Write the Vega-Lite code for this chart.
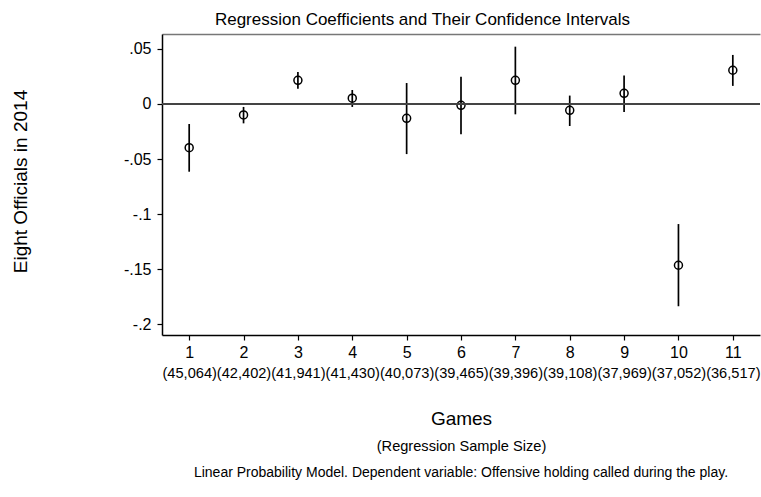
{
  "$schema": "https://vega.github.io/schema/vega-lite/v6.json",
  "width": 598,
  "height": 301,
  "autosize": {"type": "none"},
  "padding": {"left": 162, "top": 34, "right": 1, "bottom": 162},
  "background": "white",
  "config": {
    "font": "Liberation Sans",
    "view": {"stroke": null},
    "axis": {"grid": false, "labelColor": "#000", "titleColor": "#000", "titleFontWeight": "normal", "labelFlush": false, "labelOverlap": false}
  },
  "title": {
    "text": "Linear Probability Model. Dependent variable: Offensive holding called during the play.",
    "orient": "bottom",
    "anchor": "middle",
    "frame": "group",
    "fontSize": 14,
    "fontWeight": "normal",
    "color": "#000",
    "offset": 13
  },
  "data": {
    "values": [
      {"game": 1, "coef": -0.0397, "lo": -0.0615, "hi": -0.0182, "n": "(45,064)"},
      {"game": 2, "coef": -0.0100, "lo": -0.0176, "hi": -0.0027, "n": "(42,402)"},
      {"game": 3, "coef": 0.0215, "lo": 0.0139, "hi": 0.0290, "n": "(41,941)"},
      {"game": 4, "coef": 0.0052, "lo": -0.0027, "hi": 0.0127, "n": "(41,430)"},
      {"game": 5, "coef": -0.0130, "lo": -0.0455, "hi": 0.0190, "n": "(40,073)"},
      {"game": 6, "coef": -0.0012, "lo": -0.0276, "hi": 0.0248, "n": "(39,465)"},
      {"game": 7, "coef": 0.0215, "lo": -0.0094, "hi": 0.0520, "n": "(39,396)"},
      {"game": 8, "coef": -0.0058, "lo": -0.0200, "hi": 0.0076, "n": "(39,108)"},
      {"game": 9, "coef": 0.0097, "lo": -0.0073, "hi": 0.0258, "n": "(37,969)"},
      {"game": 10, "coef": -0.1464, "lo": -0.1836, "hi": -0.1090, "n": "(37,052)"},
      {"game": 11, "coef": 0.0306, "lo": 0.0164, "hi": 0.0445, "n": "(36,517)"}
    ]
  },
  "resolve": {"axis": {"x": "independent", "y": "independent"}},
  "layer": [
    {
      "mark": {"type": "rule", "color": "#000", "strokeWidth": 1.7},
      "encoding": {
        "x": {
          "field": "game", "type": "quantitative",
          "scale": {"domain": [0.5, 11.5], "nice": false, "zero": false},
          "axis": {
            "orient": "bottom", "values": [1,2,3,4,5,6,7,8,9,10,11], "format": "d",
            "labelFontSize": 16, "tickSize": 5, "tickColor": "#000", "tickWidth": 1.2,
            "domainColor": "#000", "domainWidth": 1.5, "labelPadding": 4,
            "title": "Games", "titleFontSize": 19, "titlePadding": 49
          }
        },
        "y": {
          "field": "lo", "type": "quantitative",
          "scale": {"domain": [-0.2097, 0.0635], "nice": false, "zero": false},
          "axis": {
            "orient": "left",
            "title": "Eight Officials in 2014",
            "values": [0.05, 0, -0.05, -0.1, -0.15, -0.2],
            "labelExpr": "replace(toString(datum.value), '0.', '.')",
            "labelFontSize": 16, "labelPadding": 6, "tickSize": 5, "tickColor": "#000", "tickWidth": 1.2,
            "domainColor": "#000", "domainWidth": 1.5,
            "titleFontSize": 19, "titlePadding": 93, "titleY": 147
          }
        },
        "y2": {"field": "hi"}
      }
    },
    {
      "mark": {"type": "point", "shape": "circle", "filled": false, "color": "#000", "size": 64, "strokeWidth": 1.5, "opacity": 1},
      "encoding": {
        "x": {
          "field": "game", "type": "quantitative",
          "scale": {"domain": [0.5, 11.5], "nice": false, "zero": false},
          "axis": {
            "orient": "bottom", "values": [1,2,3,4,5,6,7,8,9,10,11],
            "domain": false, "ticks": false,
            "labelExpr": "['(45,064)','(42,402)','(41,941)','(41,430)','(40,073)','(39,465)','(39,396)','(39,108)','(37,969)','(37,052)','(36,517)'][datum.value - 1]",
            "labelFontSize": 14.6, "labelPadding": 30,
            "title": "(Regression Sample Size)", "titleFontSize": 14.6, "titlePadding": 59
          }
        },
        "y": {
          "field": "coef", "type": "quantitative",
          "scale": {"domain": [-0.2097, 0.0635], "nice": false, "zero": false},
          "axis": null
        }
      }
    },
    {
      "mark": {"type": "rule", "color": "#444", "strokeWidth": 1.3},
      "encoding": {
        "x": {
          "datum": 0.5, "type": "quantitative",
          "scale": {"domain": [0.5, 11.5], "nice": false, "zero": false},
          "axis": {
            "orient": "top", "domainColor": "#777", "domainWidth": 1.6,
            "ticks": false, "labels": false,
            "title": "Regression Coefficients and Their Confidence Intervals",
            "titleFontSize": 17, "titlePadding": 6, "titleX": 260, "titleAlign": "center"
          }
        },
        "x2": {"datum": 11.5},
        "y": {"datum": 0, "type": "quantitative", "axis": null}
      }
    }
  ]
}
